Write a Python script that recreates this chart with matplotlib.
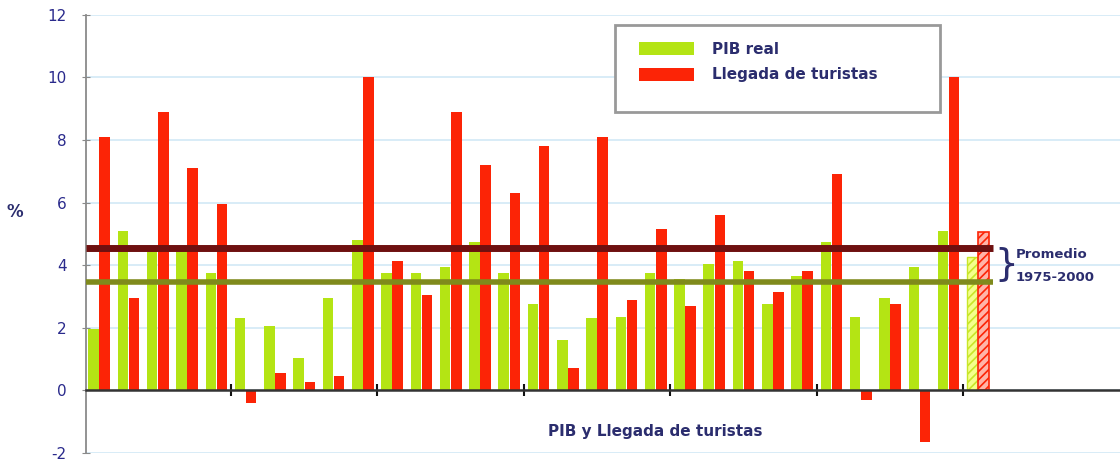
import numpy as np
import matplotlib
matplotlib.use('Agg')
import matplotlib.pyplot as plt
from matplotlib.patches import Patch, Rectangle

plt.rcParams.update({
    'font.family': 'DejaVu Sans',
    'hatch.linewidth': 1.2,
    'axes.unicode_minus': False,
})

# ── Data (growth %, one pair per year) ──
pib_real = [1.95, 5.1, 4.55, 4.6, 3.75, 2.3, 2.05, 1.05, 2.95, 4.8,
            3.75, 3.75, 3.95, 4.75, 3.75, 2.75, 1.6, 2.3, 2.35, 3.75,
            3.55, 4.05, 4.15, 2.75, 3.65, 4.75, 2.35, 2.95, 3.95, 5.1]
llegada = [8.1, 2.95, 8.9, 7.1, 5.95, -0.4, 0.55, 0.27, 0.45, 10.0,
           4.15, 3.05, 8.9, 7.2, 6.3, 7.8, 0.7, 8.1, 2.9, 5.15,
           2.7, 5.6, 3.8, 3.15, 3.8, 6.9, -0.3, 2.75, -1.65, 10.0]
# hatched average bars and the two mean lines
prom_bar_pib = 4.25
prom_bar_lleg = 5.05
prom_line_lleg = 4.55
prom_line_pib = 3.47

GREEN = '#b4e414'
RED = '#fc2406'
NAVY = '#2b2d6e'
TICKBLUE = '#2a2a8c'

fig = plt.figure(figsize=(11.2, 4.66), dpi=100)
ax = fig.add_axes([0.0768, 0.028, 0.9232, 0.94])

n = len(pib_real)
x = np.arange(n)
w = 0.36
off = 0.19

# grid
for g in range(-2, 13, 2):
    ax.axhline(g, color='#d5ebf7', linewidth=1.3, zorder=0)

ax.bar(x - off, pib_real, w, color=GREEN, zorder=2)
ax.bar(x + off, llegada, w, color=RED, zorder=2)

# hatched average pair
ax.bar(n - off, prom_bar_pib, w, color='#f4ff8c', edgecolor='#c8e628',
       hatch='////', linewidth=1.0, zorder=2)
ax.bar(n + off, prom_bar_lleg, w, color='#ffb4a8', edgecolor=RED,
       hatch='////', linewidth=1.2, zorder=2)

# mean lines
ax.hlines(prom_line_lleg, -0.45, n + 0.5, color='#6e1010', linewidth=5, zorder=3)
ax.hlines(prom_line_pib, -0.45, n + 0.5, color='#7f8a1c', linewidth=4, zorder=3)

ax.set_xlim(-0.45, 34.85)
ax.set_ylim(-2, 12)

# axes styling
for s in ['top', 'right']:
    ax.spines[s].set_visible(False)
ax.spines['left'].set_color('#8a8a8a')
ax.spines['left'].set_linewidth(1.3)
ax.spines['bottom'].set_position(('data', 0))
ax.spines['bottom'].set_color('#333333')
ax.spines['bottom'].set_linewidth(1.8)
ax.spines['bottom'].set_zorder(4)

ax.set_yticks(range(-2, 13, 2))
ax.tick_params(axis='y', colors='#8a8a8a', labelcolor=TICKBLUE,
               labelsize=11, direction='inout', length=6, pad=11)
ax.set_xticks(np.arange(4.5, 31, 5))
ax.tick_params(axis='x', direction='inout', length=8, width=1.5,
               colors='#111111', labelbottom=False)

# "%" label
fig.text(0.013, 0.545, '%', color=NAVY, fontsize=12, fontweight='bold',
         ha='center', va='center')

# bottom label
ax.text(19.0, -1.3, 'PIB y Llegada de turistas', color=NAVY, fontsize=11,
        fontweight='bold', ha='center', va='center')

# Promedio annotation
ax.text(30.95, (prom_line_lleg + prom_line_pib) / 2, '}', color=NAVY,
        fontsize=27, ha='center', va='center')
ax.text(31.3, 4.35, 'Promedio', color=NAVY, fontsize=9.5, fontweight='bold',
        ha='left', va='center')
ax.text(31.3, 3.62, '1975-2000', color=NAVY, fontsize=9.5, fontweight='bold',
        ha='left', va='center')

# legend with its own frame
frame = Rectangle((615 / 1120, 1 - 112 / 466), 325 / 1120, 87 / 466,
                  transform=fig.transFigure, facecolor='white',
                  edgecolor='#999999', linewidth=2, zorder=5)
fig.patches.append(frame)
handles = [Patch(facecolor=GREEN, label='PIB real'),
           Patch(facecolor=RED, label='Llegada de turistas')]
leg = fig.legend(handles=handles, loc='upper left',
                 bbox_to_anchor=(625 / 1120, 1 - 28 / 466), frameon=False,
                 handlelength=3.6, handleheight=0.9, handletextpad=1.2,
                 labelspacing=0.7, prop={'size': 11, 'weight': 'bold'})
for t in leg.get_texts():
    t.set_color(NAVY)
leg.set_zorder(6)

fig.savefig('out.png', dpi=100)
